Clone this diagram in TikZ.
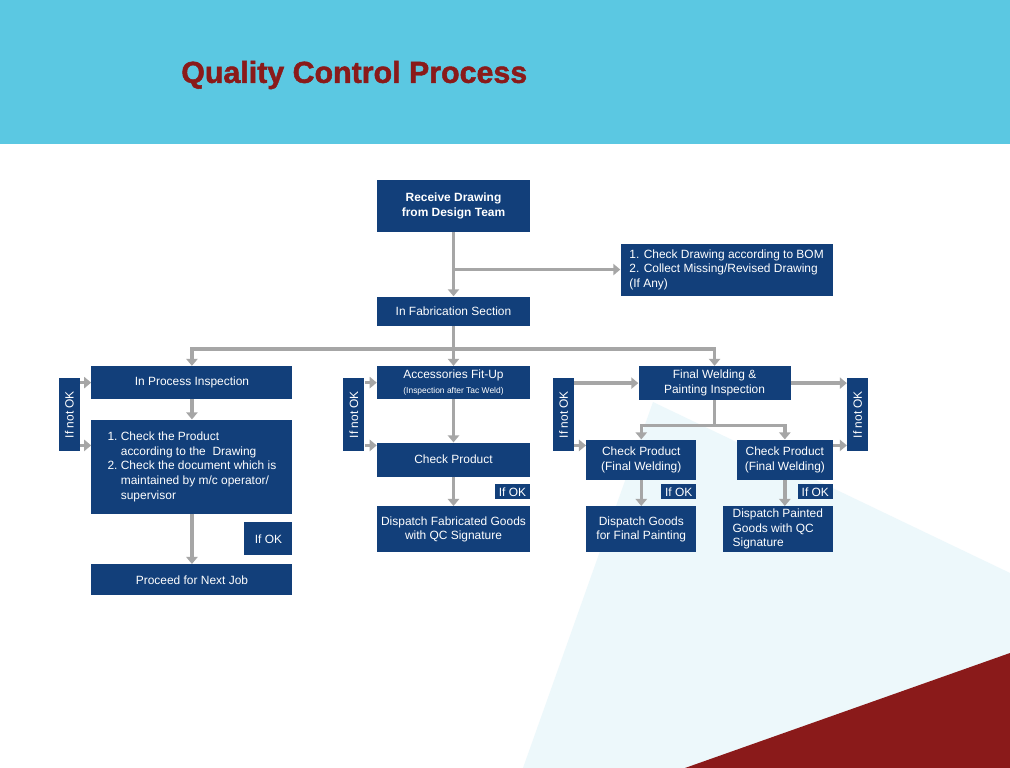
\documentclass[tikz,border=0pt]{standalone}
\usepackage{fontspec}
\setmainfont{Liberation Sans}
\newfontfamily\qctitlefont{Liberation Sans}[BoldFeatures={FakeBold=1.6}]
\usepackage{xcolor}
\usepackage{tikz}
\usetikzlibrary{arrows.meta, positioning}
\definecolor{qcBlue}{HTML}{123F7A}
\definecolor{qcGray}{HTML}{A6A6A6}
\definecolor{qcCyan}{HTML}{5BC8E2}
\definecolor{qcPale}{HTML}{EDF8FB}
\definecolor{qcRed}{HTML}{8A1A1A}
\tikzset{
  line/.style={-{Triangle[length=5pt,width=8pt]}, line width=2.5pt, draw=qcGray},
  process/.style={
    rectangle,
    fill=qcBlue,
    text=white,
    inner sep=2pt,
    align=center,
    font=\fontsize{8.5}{10.4}\selectfont
  },
  colbox/.style={process, minimum width=3.825cm},
  flag/.style={process, minimum width=0.525cm, minimum height=1.825cm, inner sep=0pt},
  okflag/.style={process, minimum width=0.875cm, minimum height=0.375cm, inner sep=0pt},
  title/.style={inner sep=0pt, text=qcRed, font=\fontsize{21.6}{25}\selectfont\qctitlefont\bfseries}
}

\begin{document}
\begin{tikzpicture}[node distance=1cm and 1cm]

% page and background shapes
\useasboundingbox (0,0) rectangle (25.25,-19.2);
\fill[white] (0,0) rectangle (25.25,-19.2);
\fill[qcCyan] (0,0) rectangle (25.25,-3.6);
\fill[qcPale] (16.325,-10.05) -- (25.25,-14.325) -- (25.25,-19.2) -- (13.075,-19.2) -- cycle;
\fill[qcRed] (17.125,-19.2) -- (25.25,-16.325) -- (25.25,-19.2) -- cycle;

\node[title, anchor=west] (title) at (4.525,-1.875) {Quality Control Process};

% top of the flow
\node[colbox, minimum height=1.3cm, font=\fontsize{8.5}{10.4}\selectfont\bfseries] (receive) at (11.3375,-5.15) {Receive Drawing\\ from Design Team};
\node[colbox, minimum height=0.725cm, below=1.6cm of receive] (fab) {In Fabrication Section};
\node[process, align=left, minimum width=5.3cm, minimum height=1.3cm, below right=0.275cm and 2.25cm of receive] (bom) {1. Check Drawing according to BOM\\ 2. Collect Missing/Revised Drawing\\ (If Any)};

% left column
\node[process, minimum width=5.025cm, minimum height=0.825cm, below left=1.0cm and 2.1cm of fab] (inproc) {In Process Inspection};
\node[process, align=left, minimum width=5.025cm, minimum height=2.35cm, below=0.5cm of inproc] (checkdoc) {1.~Check the Product\\ \hphantom{1.~}according to the~ Drawing\\ 2.~Check the document which is\\ \hphantom{2.~}maintained by m/c operator/\\ \hphantom{2.~}supervisor};
\node[process, minimum width=5.025cm, minimum height=0.775cm, below=1.25cm of checkdoc] (proceed) {Proceed for Next Job};
\node[process, minimum width=1.2cm, minimum height=0.825cm, inner sep=0pt, below left=0.2cm and 0cm of checkdoc.south east] (ifok1) {If OK};
\node[flag, below left=0.3cm and 0.275cm of inproc.north west] (notok1) {\rotatebox{90}{If not OK}};

% middle column
\node[colbox, minimum height=0.825cm, below=1.0cm of fab] (fitup) {Accessories Fit-Up\\ {\fontsize{6}{7}\selectfont (Inspection after Tac Weld)}};
\node[colbox, minimum height=0.85cm, below=1.075cm of fitup] (checkp) {Check Product};
\node[colbox, minimum height=1.15cm, below=0.725cm of checkp] (dispfab) {Dispatch Fabricated Goods\\ with QC Signature};
\node[okflag, below left=0.175cm and 0cm of checkp.south east] (ifok2) {If OK};
\node[flag, below left=0.3cm and 0.3cm of fitup.north west] (notok2) {\rotatebox{90}{If not OK}};

% right columns
\node[process, minimum width=3.8cm, minimum height=0.85cm, below right=1.0cm and 2.7cm of fab] (finalw) {Final Welding \&\\ Painting Inspection};
\node[process, minimum width=2.75cm, minimum height=1.0cm, below left=0.975cm and 0.45cm of finalw.south] (fwcheck1) {Check Product\\ (Final Welding)};
\node[process, minimum width=2.4cm, minimum height=1.0cm, below right=0.975cm and 0.55cm of finalw.south] (fwcheck2) {Check Product\\ (Final Welding)};
\node[process, minimum width=2.75cm, minimum height=1.15cm, below=0.65cm of fwcheck1] (fwdisp1) {Dispatch Goods\\ for Final Painting};
\node[process, align=left, minimum width=2.75cm, minimum height=1.15cm, below left=0.65cm and 0cm of fwcheck2.south east] (fwdisp2) {Dispatch Painted\\ Goods with QC\\ Signature};
\node[okflag, below left=0.1cm and 0cm of fwcheck1.south east] (ifok3) {If OK};
\node[okflag, below left=0.1cm and 0cm of fwcheck2.south east] (ifok4) {If OK};
\node[flag, below left=0.3cm and 1.6cm of finalw.north west] (notok3) {\rotatebox{90}{If not OK}};
\node[flag, below right=0.3cm and 1.4cm of finalw.north east] (notok4) {\rotatebox{90}{If not OK}};

% connectors
\draw[line] (receive) -- (fab);
\draw[line] (receive.south |- bom.west) -- (bom.west);

\coordinate[below=0.575cm of fab.south] (fork);
\draw[line] (fab) -- (fitup);
\draw[line] (fork) -| (inproc);
\draw[line] (fork) -| (finalw);

\draw[line] (inproc) -- (checkdoc);
\draw[line] (checkdoc) -- (proceed);
\draw[line] (notok1.east |- inproc) -- (inproc);
\draw[line] ([yshift=0.15cm]notok1.south east) -- ([yshift=0.15cm]notok1.south east -| checkdoc.west);

\draw[line] (fitup) -- (checkp);
\draw[line] (checkp) -- (dispfab);
\draw[line] (notok2.east |- fitup) -- (fitup);
\draw[line] ([yshift=0.15cm]notok2.south east) -- ([yshift=0.15cm]notok2.south east -| checkp.west);

\coordinate[below=0.625cm of finalw.south] (fwfork);
\draw[line] (finalw.south) -- (fwfork) -| (fwcheck1);
\draw[line] (fwfork) -| (fwcheck2);
\draw[line] (fwcheck1) -- (fwdisp1);
\draw[line] (fwcheck2.south) -- (fwcheck2.south |- fwdisp2.north);
\draw[line] (notok3.east |- finalw) -- (finalw);
\draw[line] ([yshift=0.15cm]notok3.south east) -- ([yshift=0.15cm]notok3.south east -| fwcheck1.west);
\draw[line] (finalw.east) -- (finalw.east -| notok4.west);
\draw[line] ([yshift=0.15cm]notok4.south west -| fwcheck2.east) -- ([yshift=0.15cm]notok4.south west);

\end{tikzpicture}
\end{document}
